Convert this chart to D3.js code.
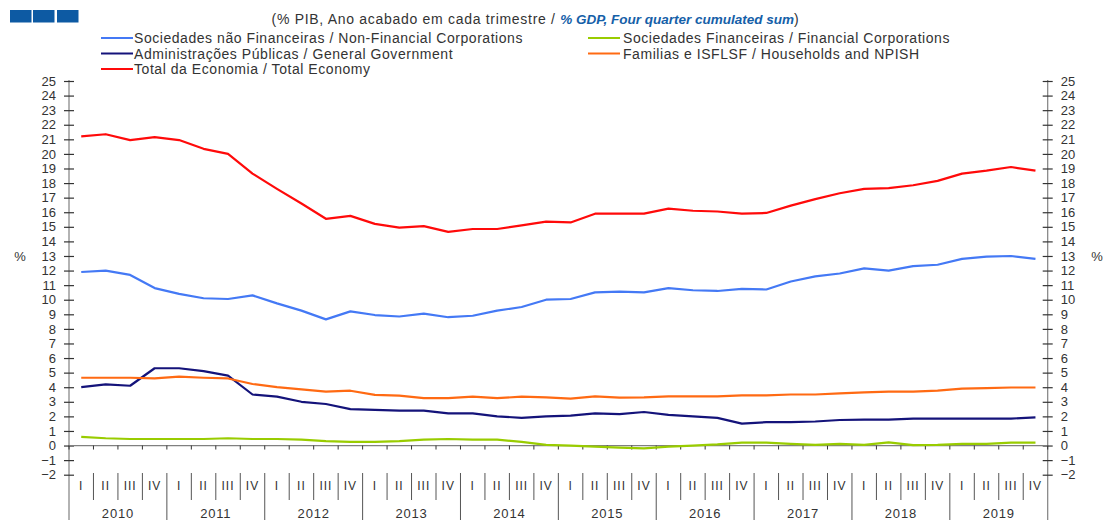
<!DOCTYPE html>
<html>
<head>
<meta charset="utf-8">
<script src="https://cdn.jsdelivr.net/npm/d3@7"></script>
<style>
  body { margin: 0; background: #fff; }
  svg { display: block; font-family: "Liberation Sans", Arial, sans-serif; }
</style>
</head>
<body>
<main></main>
<script>
// Net lending / borrowing by sector, % GDP, four quarter cumulated sum

const years = ["2010","2011","2012","2013","2014","2015","2016","2017","2018","2019"];
const quarterNames = ["I","II","III","IV"];

const nonFinancial = [11.9, 12.0, 11.7, 10.8, 10.4, 10.1, 10.05, 10.3, 9.75, 9.25,
                      8.65, 9.2, 8.95, 8.85, 9.05, 8.8, 8.9, 9.25, 9.5, 10.0,
                      10.05, 10.5, 10.55, 10.5, 10.8, 10.65, 10.6, 10.75, 10.7, 11.25,
                      11.6, 11.8, 12.15, 12.0, 12.3, 12.4, 12.8, 12.95, 13.0, 12.8];
const financial = [0.6, 0.5, 0.45, 0.45, 0.45, 0.45, 0.5, 0.45, 0.45, 0.4,
                   0.3, 0.25, 0.25, 0.3, 0.4, 0.45, 0.4, 0.4, 0.25, 0.05,
                   0.0, -0.08, -0.15, -0.2, -0.08, 0.0, 0.08, 0.2, 0.2, 0.12,
                   0.05, 0.12, 0.05, 0.22, 0.03, 0.05, 0.12, 0.12, 0.2, 0.2];
const government = [4.0, 4.2, 4.1, 5.3, 5.3, 5.1, 4.8, 3.5, 3.35, 3.0,
                    2.85, 2.5, 2.45, 2.4, 2.4, 2.2, 2.2, 2.0, 1.9, 2.0,
                    2.05, 2.2, 2.15, 2.3, 2.1, 2.0, 1.9, 1.5, 1.6, 1.6,
                    1.65, 1.75, 1.78, 1.78, 1.85, 1.85, 1.85, 1.85, 1.85, 1.93];
const households = [4.65, 4.65, 4.65, 4.6, 4.72, 4.65, 4.6, 4.22, 4.0, 3.85,
                    3.7, 3.76, 3.48, 3.42, 3.25, 3.25, 3.35, 3.25, 3.35, 3.3,
                    3.22, 3.37, 3.28, 3.3, 3.37, 3.37, 3.37, 3.44, 3.44, 3.5,
                    3.5, 3.58, 3.65, 3.7, 3.7, 3.76, 3.9, 3.94, 3.98, 3.98];
const totalEconomy = [21.2, 21.35, 20.95, 21.15, 20.95, 20.35, 20.0, 18.65, 17.6, 16.6,
                      15.55, 15.75, 15.2, 14.95, 15.05, 14.65, 14.85, 14.85, 15.1, 15.35,
                      15.3, 15.9, 15.9, 15.9, 16.25, 16.1, 16.05, 15.9, 15.95, 16.45,
                      16.9, 17.3, 17.6, 17.65, 17.85, 18.15, 18.65, 18.85, 19.1, 18.85];

const yTicks = d3.range(-2, 26);

const seriesNames = ["Sociedades não Financeiras / Non-Financial Corporations",
                     "Sociedades Financeiras / Financial Corporations",
                     "Administrações Públicas / General Government",
                     "Familias e ISFLSF / Households and NPISH",
                     "Total da Economia / Total Economy"];
const seriesColors = ["#4479f5", "#99cc00", "#14137a", "#ff6a13", "#ff0a0a"];

document.addEventListener('DOMContentLoaded', function(){

	const w = 1104;
	const h = 520;
	const left = 69;
	const right = 1047.7;

	const quarters = [];
	years.forEach(yr => quarterNames.forEach(q => quarters.push(yr + " " + q)));

	const series = [nonFinancial, financial, government, households, totalEconomy];

	const svg = d3.select("main")
				  .append("svg")
				  .attr("width", w)
				  .attr("height", h);

	//Scales
	const xScale = d3.scaleBand()
					 .domain(quarters)
					 .range([left, right])
					 .padding(0);

	const yScale = d3.scaleLinear()
					 .domain([-2, 25])
					 .range([474.7, 81]);

	const xMid = (i) => xScale(quarters[i]) + xScale.bandwidth() / 2;

	//Header boxes
	svg.selectAll("rect.hdr")
	   .data([10, 33, 57])
	   .enter()
	   .append("rect")
	   .attr("class", "hdr")
	   .attr("x", d => d)
	   .attr("y", 10)
	   .attr("width", 21.5)
	   .attr("height", 12.5)
	   .attr("fill", "#0d5aa3");

	//Subtitle
	const sub = svg.append("text")
				   .attr("x", 535.5)
				   .attr("y", 24)
				   .attr("text-anchor", "middle")
				   .style("font-size", "14px")
				   .style("letter-spacing", "0.7px")
				   .attr("fill", "#333");
	sub.append("tspan").text("(% PIB, Ano acabado  em cada trimestre / ");
	sub.append("tspan")
	   .attr("fill", "#1560a8")
	   .style("font-weight", "bold")
	   .style("font-style", "italic")
	   .style("font-size", "13.5px")
	   .style("letter-spacing", "0px")
	   .text("% GDP, Four quarter cumulated sum");
	sub.append("tspan").text(")");

	//Legend
	const legPos = [[101, 38], [588, 38], [101, 53.5], [588, 53.5], [101, 69]];
	const legend = svg.selectAll("g.leg")
					  .data(seriesNames)
					  .enter()
					  .append("g")
					  .attr("class", "leg")
					  .attr("transform", (d, i) => "translate(" + legPos[i][0] + "," + legPos[i][1] + ")");
	legend.append("line")
		  .attr("x1", 0)
		  .attr("x2", 32)
		  .attr("stroke", (d, i) => seriesColors[i])
		  .attr("stroke-width", 2);
	legend.append("text")
		  .attr("x", (d, i) => i % 2 === 1 && i < 4 ? 35 : 33)
		  .attr("y", 5)
		  .style("font-size", "14px")
		  .style("letter-spacing", "0.55px")
		  .attr("fill", "#333")
		  .text(d => d);

	//Y axes
	const axisColor = "#808080";
	[[left, -1], [right, 1]].forEach(([ax, side]) => {
		svg.append("line")
		   .attr("x1", ax).attr("x2", ax)
		   .attr("y1", 80).attr("y2", h)
		   .attr("stroke", axisColor)
		   .attr("stroke-width", 1.2);

		const axis = (side < 0 ? d3.axisLeft(yScale) : d3.axisRight(yScale))
						.tickValues(yTicks)
						.tickSize(0)
						.tickPadding(13);

		const g = svg.append("g")
					 .attr("transform", "translate(" + ax + ",0)")
					 .call(axis);
		g.select(".domain").remove();
		g.selectAll(".tick line")
		 .attr("x1", -5).attr("x2", 5)
		 .attr("stroke", "#333")
		 .attr("stroke-width", 1.2);
		g.selectAll(".tick text")
		 .style("font-size", "13px")
		 .style("font-family", "'Liberation Sans', Arial, sans-serif")
		 .attr("fill", "#333");

		svg.append("text")
		   .attr("x", side < 0 ? 20 : 1097)
		   .attr("y", yScale(13) + 5)
		   .attr("text-anchor", "middle")
		   .style("font-size", "13px")
		   .attr("fill", "#333")
		   .text("%");
	});

	//Zero line with quarter ticks
	const qBounds = d3.range(0, quarters.length + 1).map(i => left + i * xScale.bandwidth());
	svg.append("line")
	   .attr("x1", left).attr("x2", right)
	   .attr("y1", yScale(0)).attr("y2", yScale(0))
	   .attr("stroke", axisColor)
	   .attr("stroke-width", 1.2);
	svg.selectAll("line.qtick")
	   .data(qBounds)
	   .enter()
	   .append("line")
	   .attr("class", "qtick")
	   .attr("x1", d => d).attr("x2", d => d)
	   .attr("y1", yScale(0)).attr("y2", yScale(0) + 4)
	   .attr("stroke", "#333");

	//Category labels
	svg.selectAll("line.sep")
	   .data(qBounds.slice(1, -1))
	   .enter()
	   .append("line")
	   .attr("class", "sep")
	   .attr("x1", d => d).attr("x2", d => d)
	   .attr("y1", 473)
	   .attr("y2", (d, i) => (i + 1) % 4 === 0 ? h : 500)
	   .attr("stroke", "#555");

	svg.selectAll("text.qlab")
	   .data(quarters)
	   .enter()
	   .append("text")
	   .attr("class", "qlab")
	   .attr("x", (d, i) => xMid(i))
	   .attr("y", 490)
	   .attr("text-anchor", "middle")
	   .style("font-size", "12px")
	   .style("letter-spacing", "1px")
	   .attr("fill", "#333")
	   .text(d => d.split(" ")[1]);

	svg.selectAll("text.ylab")
	   .data(years)
	   .enter()
	   .append("text")
	   .attr("class", "ylab")
	   .attr("x", (d, i) => (xScale(d + " I") + xScale(d + " IV") + xScale.bandwidth()) / 2)
	   .attr("y", 518)
	   .attr("text-anchor", "middle")
	   .style("font-size", "13px")
	   .style("letter-spacing", "0.8px")
	   .attr("fill", "#333")
	   .text(d => d);

	//Lines
	const line = d3.line()
				   .x((d, i) => xMid(i))
				   .y(d => yScale(d));

	svg.selectAll("path.series")
	   .data(series)
	   .enter()
	   .append("path")
	   .attr("class", "series")
	   .attr("d", d => line(d))
	   .attr("fill", "none")
	   .attr("stroke", (d, i) => seriesColors[i])
	   .attr("stroke-width", 2.2)
	   .attr("stroke-linejoin", "round");
});
</script>
</body>
</html>
